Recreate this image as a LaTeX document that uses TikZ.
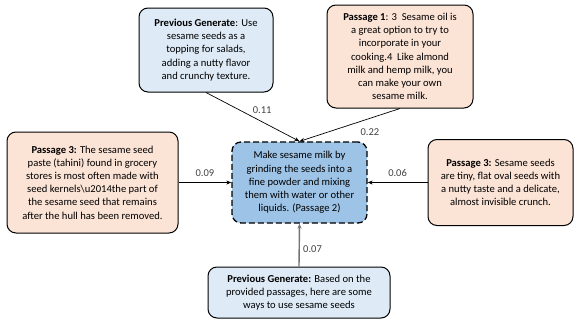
\documentclass[tikz,border=0pt]{standalone}
\usepackage{fontspec}
\setmainfont{Carlito}
\usetikzlibrary{arrows.meta}
\definecolor{genblue}{HTML}{DEEBF7}
\definecolor{passorange}{HTML}{FBE3D6}
\definecolor{ansblue}{HTML}{9DC3E6}
\tikzset{
  box/.style={draw, line width=1pt, rounded corners=9pt, align=center, inner sep=3pt,
    font=\fontsize{10.6}{13.2}\selectfont},
  genbox/.style={box, fill=genblue},
  passbox/.style={box, fill=passorange},
  ansbox/.style={box, fill=ansblue, dashed, dash pattern=on 6pt off 3pt, line width=1.3pt},
  link/.style={->, line width=0.7pt},
  wlabel/.style={font=\fontsize{10.5}{12}\selectfont, text=black!75}
}
\begin{document}
\begin{tikzpicture}[x=1pt, y=-1pt, >={Stealth[length=5pt,width=4pt]}]
    \useasboundingbox (0,0) rectangle (576,322);
    \node[ansbox, minimum width=135pt, minimum height=81pt] (ans) at (299.5,182.5)
      {Make sesame milk by\\grinding the seeds into a\\fine powder and mixing\\them with water or other\\liquids. (Passage 2)};
    \node[genbox, minimum width=134pt, minimum height=84pt] (gentop) at (206,50)
      {\textbf{Previous Generate}: Use\\sesame seeds as a\\topping for salads,\\adding a nutty flavor\\and crunchy texture.};
    \node[passbox, minimum width=146pt, minimum height=103pt] (pone) at (400,56.5)
      {\textbf{Passage 1}: 3~ Sesame oil is\\a great option to try to\\incorporate in your\\cooking.4~ Like almond\\milk and hemp milk, you\\can make your own\\sesame milk.};
    \node[passbox, minimum width=171pt, minimum height=101pt] (pleft) at (92.5,182.5)
      {\textbf{Passage 3:} The sesame seed\\paste (tahini) found in grocery\\stores is most often made with\\seed kernels\textbackslash u2014the part of\\the sesame seed that remains\\after the hull has been removed.};
    \node[passbox, minimum width=145pt, minimum height=86pt] (pright) at (500.5,182.5)
      {\textbf{Passage 3:} Sesame seeds\\are tiny, flat oval seeds with\\a nutty taste and a delicate,\\almost invisible crunch.};
    \node[genbox, minimum width=182pt, minimum height=51pt] (genbot) at (299,292.5)
      {\textbf{Previous Generate:} Based on the\\provided passages, here are some\\ways to use sesame seeds};
    % weighted links
    \draw[link] (gentop.south) -- (ans.north) node[wlabel, pos=0.6, above=5pt] {0.11};
    \draw[link] (pone.south) -- (ans.north) node[wlabel, pos=0.3, below=7pt] {0.22};
    \draw[link] (pleft.east) -- (ans.west) node[wlabel, midway, above=2pt] {0.09};
    \draw[link] (pright.west) -- (ans.east) node[wlabel, midway, above=2pt] {0.06};
    \draw[link, draw=black!55, line width=1.4pt] (genbot.north) -- (ans.south) node[wlabel, pos=0.4, right=0pt] {0.07};
\end{tikzpicture}
\end{document}
